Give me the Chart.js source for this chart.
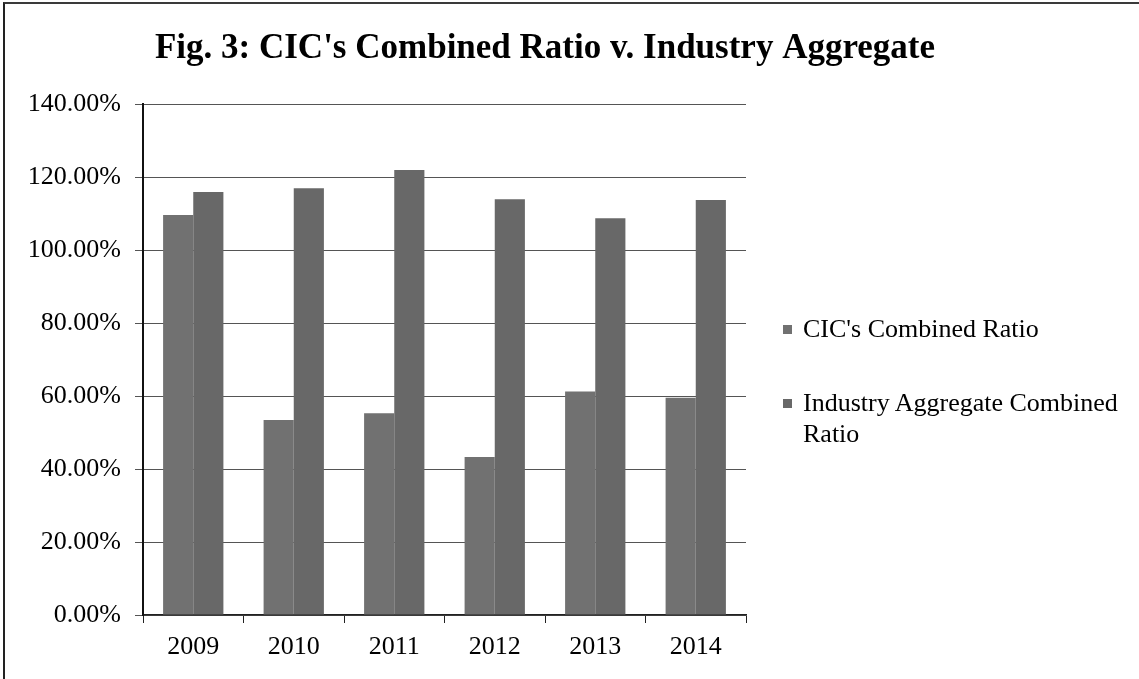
<!DOCTYPE html>
<html lang="en">
<head>
    <meta charset="UTF-8">
    <title>Fig. 3: CIC's Combined Ratio v. Industry Aggregate</title>
    <style>
        body { margin: 0; background: #fff; font-family: "Liberation Serif", "DejaVu Serif", serif; }
        #wrap { position: relative; width: 1139px; height: 679px; overflow: hidden; }
        #frame { position: absolute; left: 3px; top: 2px; right: -4px; bottom: -4px; border-top: 2px solid #3a3a3a; border-left: 2px solid #222; }
        #chartBox { position: absolute; left: 0; top: 0; width: 1139px; height: 679px; }
        .legend-item { position: absolute; left: 783px; font-size: 26px; line-height: 31px; color: #000; }
        .legend-item .sw { position: absolute; left: 0; top: 12px; width: 9px; height: 9px; }
        .legend-item .txt { position: absolute; left: 20px; white-space: nowrap; }
    </style>
    <script src="https://cdn.jsdelivr.net/npm/chart.js"></script>
</head>
<body>
<div id="wrap">
    <div id="frame"></div>
    <div id="chartBox"><canvas id="ratioChart"></canvas></div>
    <div class="legend-item" style="top:313px"><span class="sw" id="sw0"></span><span class="txt" id="lg0"></span></div>
    <div class="legend-item" style="top:387px"><span class="sw" id="sw1"></span><span class="txt" id="lg1"></span></div>
</div>
<script>
    // values (percent)
    const years = ["2009", "2010", "2011", "2012", "2013", "2014"];
    const cicRatio = [109.6, 53.4, 55.3, 43.3, 61.2, 59.5];
    const industryRatio = [115.9, 116.9, 121.9, 113.9, 108.7, 113.7];
    const seriesNames = ["CIC's Combined Ratio", "Industry Aggregate Combined Ratio"];
    const yTicks = [0, 20, 40, 60, 80, 100, 120, 140];

    const colours = ["#717171", "#686868"];
    const serif = "'Liberation Serif', 'DejaVu Serif', serif";

    // legend is plain html on the right, like the original
    document.getElementById("sw0").style.background = colours[0];
    document.getElementById("sw1").style.background = colours[1];
    document.getElementById("lg0").textContent = seriesNames[0];
    document.getElementById("lg1").innerHTML = "Industry Aggregate Combined<br>Ratio";

    Chart.defaults.font.family = serif;
    Chart.defaults.color = "#000";

    const ctx = document.getElementById("ratioChart").getContext("2d");
    new Chart(ctx, {
        type: "bar",
        data: {
            labels: years,
            datasets: [
                { label: seriesNames[0], data: cicRatio, backgroundColor: colours[0], borderWidth: 0 },
                { label: seriesNames[1], data: industryRatio, backgroundColor: colours[1], borderWidth: 0 }
            ]
        },
        options: {
            responsive: true,
            maintainAspectRatio: false,
            animation: false,
            categoryPercentage: 0.6,
            barPercentage: 1.0,
            layout: { padding: { left: 0, right: 49, top: 0, bottom: 0 } },
            plugins: {
                legend: { display: false },
                tooltip: { enabled: false },
                title: {
                    display: true,
                    text: "Fig. 3: CIC's Combined Ratio v. Industry Aggregate",
                    font: { family: serif, size: 35, weight: "bold" },
                    color: "#000",
                    padding: { top: 28, bottom: 34 }
                }
            },
            scales: {
                x: {
                    grid: { display: true, drawOnChartArea: false, offset: true, tickLength: 8, color: "#222" },
                    border: { display: true, color: "#222", width: 1.5 },
                    ticks: { font: { size: 26 }, color: "#000", padding: 9, autoSkip: false, maxRotation: 0 },
                    afterFit: s => { s.height = 64; }
                },
                y: {
                    min: 0,
                    max: 140,
                    afterBuildTicks: s => { s.ticks = yTicks.map(v => ({ value: v })); },
                    grid: { color: "#555", lineWidth: 1, tickLength: 8 },
                    border: { display: true, color: "#111", width: 2 },
                    ticks: {
                        font: { size: 26 },
                        color: "#000",
                        padding: 14,
                        callback: v => v.toFixed(2) + "%"
                    },
                    afterFit: s => { s.width = 143; }
                },
                // empty axis that just reserves the space where the legend sits
                legendSpace: {
                    type: "linear",
                    position: "right",
                    display: true,
                    grid: { display: false },
                    border: { display: false },
                    ticks: { display: false },
                    afterFit: s => { s.width = 344; }
                }
            }
        }
    });
</script>
</body>
</html>
